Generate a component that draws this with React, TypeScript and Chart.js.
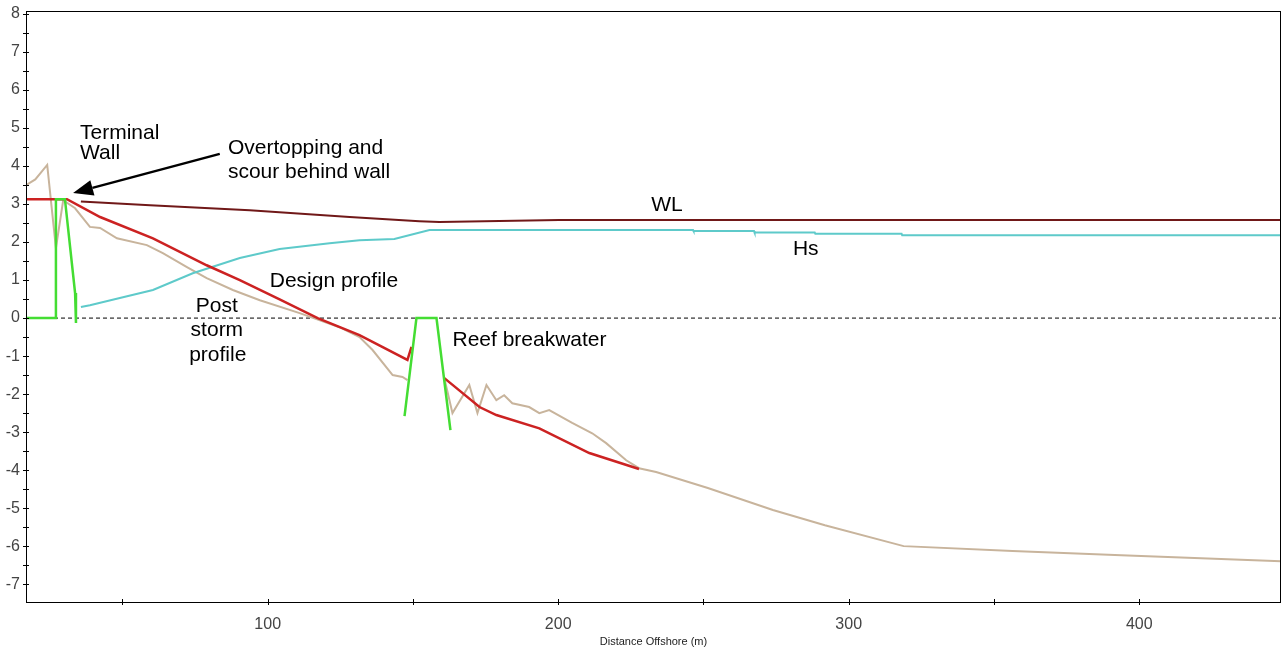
import React, { useEffect, useRef } from "react";
import { Chart, registerables } from "chart.js";
Chart.register(...registerables);

// Axis ranges
const X_MIN = 16.8;
const X_MAX = 448.8;
const Y_MIN = -7.47;
const Y_MAX = 8.08;
const X_TICK_STEP = 50;
const X_LABELLED = [100, 200, 300, 400];
const Y_TICK_STEP = 1;
const Y_MINOR_STEP = 0.5;

// Water level (WL)
const wlX = [35.7, 59.5, 93.8, 128.2, 152.2, 159.1, 200.3, 448.8];
const wlY = [3.07, 2.97, 2.84, 2.66, 2.55, 2.53, 2.58, 2.58];

// Significant wave height (Hs)
const hsX = [35.7, 38.8, 49.1, 60.5, 74.2, 90.4, 104.1, 121.3, 131.6, 143.6, 155.7, 246.4, 246.6, 267.4, 267.6, 288.3, 288.5, 318.2, 318.4, 448.8];
const hsY = [0.29, 0.34, 0.53, 0.74, 1.18, 1.58, 1.82, 1.97, 2.05, 2.08, 2.32, 2.32, 2.29, 2.29, 2.25, 2.25, 2.22, 2.22, 2.18, 2.18];

// Design profile (gap over the reef breakwater)
const designX = [16.8, 30.9, 42.3, 60.5, 79.0, 90.4, 104.1, 117.2, 131.6, 148.1, 149.5, 155.0, 160.8, 172.9, 178.7, 193.5, 210.7, 227.8];
const designY: (number | null)[] = [3.13, 3.13, 2.66, 2.1, 1.39, 1.0, 0.49, 0.0, -0.45, -1.1, -0.76, null, -1.58, -2.34, -2.55, -2.9, -3.55, -3.97];

// Post storm profile
const postX = [16.8, 20.0, 24.1, 27.1, 29.6, 33.7, 38.8, 42.3, 48.1, 58.4, 63.9, 72.2, 79.0, 88.0, 97.3, 111.0, 124.7, 131.6, 136.1, 143.0, 146.4, 148.1, 155.0, 160.8, 163.6, 169.4, 172.2, 175.3, 178.7, 181.4, 184.2, 190.0, 193.5, 196.9, 204.8, 211.7, 216.5, 223.4, 227.8, 233.7, 251.5, 273.9, 291.8, 318.9, 356.4, 393.8, 448.8];
const postY: (number | null)[] = [3.5, 3.65, 4.03, 1.84, 3.1, 2.89, 2.4, 2.37, 2.1, 1.92, 1.71, 1.34, 1.05, 0.74, 0.47, 0.13, -0.24, -0.5, -0.84, -1.5, -1.55, -1.63, null, -1.58, -2.5, -1.76, -2.5, -1.76, -2.16, -2.03, -2.24, -2.34, -2.5, -2.42, -2.76, -3.03, -3.29, -3.74, -3.95, -4.05, -4.47, -5.05, -5.45, -6.0, -6.13, -6.24, -6.4];

// Structures: terminal wall and reef breakwater
const structX = [16.8, 27.1, 27.1, 30.2, 33.7, 34.0, 90.0, 147.1, 151.2, 158.1, 162.9];
const structY: (number | null)[] = [0, 0, 3.13, 3.13, 0.66, -0.13, null, -2.58, 0.0, 0.0, -2.95];

// Zero datum line
const zeroX = [X_MIN, X_MAX];
const zeroY = [0, 0];

// Annotations (data coordinates)
const labelTexts = ["Terminal", "Wall", "Overtopping and", "scour behind wall", "Design profile", "Post", "storm", "profile", "Reef breakwater", "WL", "Hs"];
const labelX = [35.4, 35.4, 86.3, 86.3, 100.7, 82.5, 82.5, 82.8, 163.6, 232.0, 280.8];
const labelY = [4.87, 4.34, 4.47, 3.84, 0.97, 0.32, -0.32, -0.97, -0.58, 2.97, 1.82];
const labelAlign = ["left", "left", "left", "left", "left", "center", "center", "center", "left", "left", "left"];
const arrowFrom = [83.5, 4.32];
const arrowTo = [33.0, 3.29];

const pts = (xs: number[], ys: (number | null)[]) => xs.map((x, i) => ({ x, y: ys[i] }));

const decorPlugin = {
  id: "decor",
  afterDatasetsDraw(chart: any) {
    const { ctx, chartArea: a, scales } = chart;
    const xs = scales.x;
    const ys = scales.y;
    ctx.save();
    // frame
    ctx.strokeStyle = "#000";
    ctx.lineWidth = 1;
    ctx.strokeRect(Math.round(a.left) + 0.5, Math.round(a.top) + 0.5, Math.round(a.right - a.left) - 1, Math.round(a.bottom - a.top));
    // y ticks (major & minor)
    ctx.beginPath();
    for (let v = Math.ceil(Y_MIN / Y_MINOR_STEP) * Y_MINOR_STEP; v <= Y_MAX; v += Y_MINOR_STEP) {
      const py = Math.round(ys.getPixelForValue(v)) + 0.5;
      ctx.moveTo(a.left - 3, py);
      ctx.lineTo(a.left + 3, py);
    }
    // x ticks
    xs.ticks.forEach((t: any) => {
      const px = Math.round(xs.getPixelForValue(t.value)) + 0.5;
      ctx.moveTo(px, a.bottom - 3);
      ctx.lineTo(px, a.bottom + 3);
    });
    ctx.stroke();

    // arrow
    const x1 = xs.getPixelForValue(arrowFrom[0]);
    const y1 = ys.getPixelForValue(arrowFrom[1]);
    const x2 = xs.getPixelForValue(arrowTo[0]);
    const y2 = ys.getPixelForValue(arrowTo[1]);
    const ang = Math.atan2(y2 - y1, x2 - x1);
    const headLen = 20;
    const headW = 8;
    const bx = x2 - headLen * Math.cos(ang);
    const by = y2 - headLen * Math.sin(ang);
    ctx.strokeStyle = "#000";
    ctx.lineWidth = 2.5;
    ctx.beginPath();
    ctx.moveTo(x1, y1);
    ctx.lineTo(bx, by);
    ctx.stroke();
    ctx.fillStyle = "#000";
    ctx.beginPath();
    ctx.moveTo(x2, y2);
    ctx.lineTo(bx + headW * Math.sin(ang), by - headW * Math.cos(ang));
    ctx.lineTo(bx - headW * Math.sin(ang), by + headW * Math.cos(ang));
    ctx.closePath();
    ctx.fill();

    // text labels
    ctx.font = '21px "Liberation Sans", Arial, sans-serif';
    ctx.fillStyle = "#000";
    ctx.textBaseline = "middle";
    labelTexts.forEach((t, i) => {
      ctx.textAlign = labelAlign[i] as CanvasTextAlign;
      ctx.fillText(t, xs.getPixelForValue(labelX[i]), ys.getPixelForValue(labelY[i]));
    });
    ctx.restore();
  },
};

export default function App() {
  const ref = useRef<HTMLCanvasElement>(null);
  useEffect(() => {
    if (!ref.current) return;
    const line = (label: string, data: any[], color: string, width: number, order: number, extra: any = {}) => ({
      label,
      data,
      borderColor: color,
      backgroundColor: color,
      borderWidth: width,
      pointRadius: 0,
      tension: 0,
      fill: false,
      spanGaps: false,
      order,
      ...extra,
    });
    const chart = new Chart(ref.current, {
      type: "line",
      data: {
        datasets: [
          line("Zero", pts(zeroX, zeroY), "#000", 1, 7, { borderDash: [4, 3] }),
          line("Post storm profile", pts(postX, postY), "#c8b49c", 2, 6),
          line("Hs", pts(hsX, hsY), "#5ecaca", 2, 5),
          line("WL", pts(wlX, wlY), "#701818", 2, 4),
          line("Design profile", pts(designX, designY), "#cc2222", 2.5, 3),
          line("Structures", pts(structX, structY), "#44dd33", 2.5, 2),
        ],
      },
      options: {
        responsive: false,
        animation: false,
        events: [],
        layout: { padding: { top: 11, right: 1, left: 0, bottom: 0 } },
        plugins: { legend: { display: false }, tooltip: { enabled: false } },
        scales: {
          x: {
            type: "linear",
            min: X_MIN,
            max: X_MAX,
            grid: { display: false, drawTicks: false, tickLength: 0 },
            border: { display: false },
            afterFit: (s: any) => {
              s.height = 53;
              s.paddingLeft = 0;
              s.paddingRight = 0;
            },
            ticks: {
              stepSize: X_TICK_STEP,
              includeBounds: false,
              autoSkip: false,
              maxRotation: 0,
              padding: 13,
              color: "#444",
              font: { family: '"Liberation Sans", Arial, sans-serif', size: 16 },
              callback: (v: any) => (X_LABELLED.includes(Number(v)) ? String(v) : ""),
            },
            title: {
              display: true,
              text: "Distance Offshore (m)",
              color: "#222",
              font: { family: '"Liberation Sans", Arial, sans-serif', size: 11 },
              padding: { top: 0, bottom: 6 },
            },
          },
          y: {
            type: "linear",
            min: Y_MIN,
            max: Y_MAX,
            grid: { display: false, drawTicks: false, tickLength: 0 },
            border: { display: false },
            afterFit: (s: any) => {
              s.width = 26;
              s.paddingTop = 0;
              s.paddingBottom = 0;
            },
            ticks: {
              stepSize: Y_TICK_STEP,
              includeBounds: false,
              autoSkip: false,
              padding: 6,
              color: "#444",
              font: { family: '"Liberation Sans", Arial, sans-serif', size: 16 },
              callback: (v: any) => String(v),
            },
          },
        },
      },
      plugins: [decorPlugin],
    });
    return () => chart.destroy();
  }, []);
  return (
    <div style={{ position: "absolute", left: 0, top: 0, width: 1282, height: 655, background: "#fff" }}>
      <canvas ref={ref} width={1282} height={655} style={{ display: "block" }} />
    </div>
  );
}
